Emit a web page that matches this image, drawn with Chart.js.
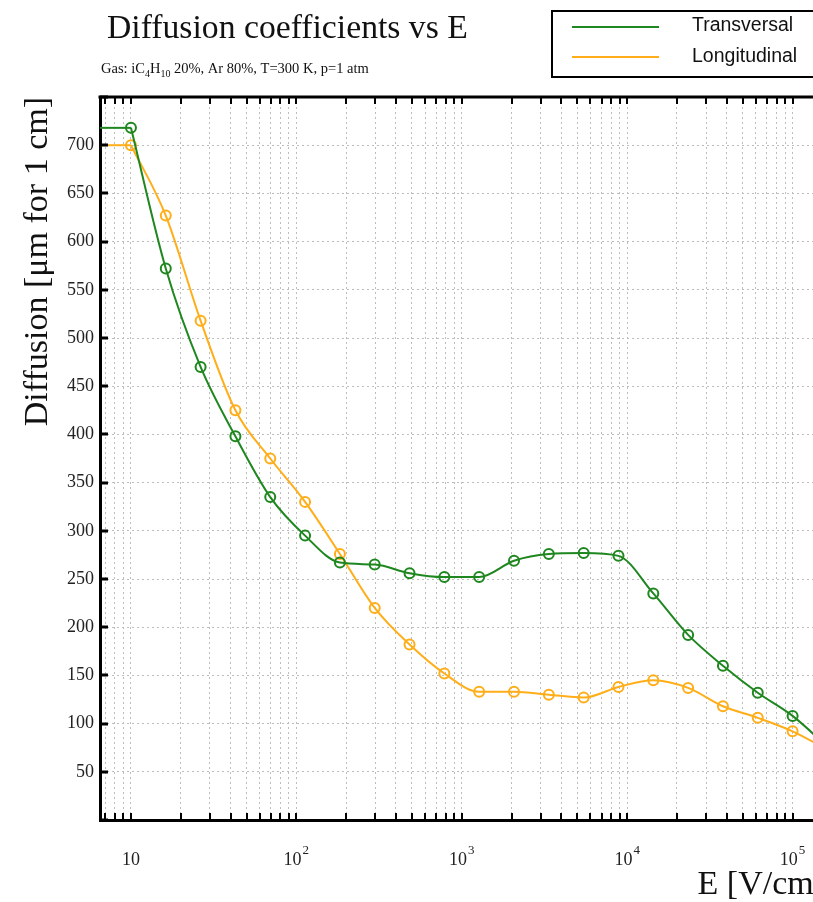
<!DOCTYPE html>
<html>
<head>
<meta charset="utf-8">
<script src="https://cdn.jsdelivr.net/npm/chart.js@4"></script>
<style>
html, body { margin: 0; padding: 0; overflow: hidden; background: #fff; }
canvas { display: block; }
</style>
</head>
<body>
<canvas id="mycanvas" width="832" height="902"></canvas>
<script>
// electric field E [V/cm], log spaced sample points (last one lies past the visible edge)
var fieldE = [10, 16.24, 26.37, 42.81, 69.52, 112.9, 183.3, 297.6, 483.3, 784.8, 1274, 2069, 3360, 5456, 8859, 14384, 23357, 37927, 61585, 100000, 162378];
var transversal = [718, 572, 470, 398, 335, 295, 267, 265, 256, 252, 252, 269, 276, 277, 274, 235, 192, 160, 132, 108, 76];
var longitudinal = [700, 627, 518, 425, 375, 330, 276, 220, 182, 152, 133, 133, 130, 127, 138, 145, 137, 118, 106, 92, 73];

var decadeTicks = [10, 100, 1000, 10000, 100000];
var decadeExps = ['', '2', '3', '4', '5'];
var minorSteps = [1, 2, 3, 4, 5, 6, 7, 8, 9];
var xMin = 6.5, xMax = 157000;
var yMin = 0, yMax = 750, yStep = 50;

var green = '#1f871f';
var orange = '#ffae19';

var xTickValues = [7, 8, 9];
decadeTicks.forEach(function (d) {
  minorSteps.forEach(function (m) {
    if (d * m <= xMax) xTickValues.push(d * m);
  });
});

function points(vals) {
  return fieldE.map(function (e, i) { return { x: e, y: vals[i] }; });
}

var decor = {
  id: 'decor',
  afterDraw: function (chart) {
    var ctx = chart.ctx, a = chart.chartArea;
    var xs = chart.scales.x, ys = chart.scales.y;
    ctx.save();

    // frame top
    ctx.strokeStyle = '#000';
    ctx.lineWidth = 3;
    ctx.beginPath();
    ctx.moveTo(a.left - 1.5, a.top);
    ctx.lineTo(a.right, a.top);
    ctx.stroke();

    // inward ticks
    ctx.lineWidth = 2;
    ctx.beginPath();
    xs.ticks.forEach(function (t) {
      var px = Math.round(xs.getPixelForValue(t.value));
      ctx.moveTo(px, a.bottom);
      ctx.lineTo(px, a.bottom - 7);
      ctx.moveTo(px, a.top);
      ctx.lineTo(px, a.top + 7);
    });
    ctx.stroke();
    ctx.lineWidth = 3;
    ctx.beginPath();
    ys.ticks.forEach(function (t) {
      var py = Math.round(ys.getPixelForValue(t.value));
      ctx.moveTo(a.left, py);
      ctx.lineTo(a.left + 8, py);
    });
    ctx.stroke();

    // x tick labels 10, 10^2 ...
    ctx.fillStyle = '#222';
    ctx.textBaseline = 'alphabetic';
    ctx.textAlign = 'left';
    decadeTicks.forEach(function (v, i) {
      var px = xs.getPixelForValue(v);
      ctx.font = '18px "Liberation Serif"';
      var w1 = ctx.measureText('10').width;
      ctx.font = '13px "Liberation Serif"';
      var w2 = decadeExps[i] ? ctx.measureText(decadeExps[i]).width + 1 : 0;
      var x0 = px - (w1 + w2) / 2;
      ctx.font = '18px "Liberation Serif"';
      ctx.fillText('10', x0, 865);
      if (decadeExps[i]) {
        ctx.font = '13px "Liberation Serif"';
        ctx.fillText(decadeExps[i], x0 + w1 + 1, 854);
      }
    });

    // title
    ctx.fillStyle = '#111';
    ctx.font = '33.7px "Liberation Serif"';
    ctx.fillText('Diffusion coefficients vs E', 107, 38);

    // subtitle with subscripts
    var parts = [
      ['Gas: iC', 0], ['4', 1], ['H', 0], ['10', 1], [' 20%, Ar 80%, T=300 K, p=1 atm', 0]
    ];
    var sx = 101;
    parts.forEach(function (p) {
      ctx.font = p[1] ? '10px "Liberation Serif"' : '14.5px "Liberation Serif"';
      ctx.fillText(p[0], sx, p[1] ? 77 : 73);
      sx += ctx.measureText(p[0]).width;
    });

    // legend box
    ctx.strokeStyle = '#000';
    ctx.lineWidth = 2;
    ctx.strokeRect(552, 11, 290, 66);
    ctx.strokeStyle = green;
    ctx.beginPath(); ctx.moveTo(572, 27); ctx.lineTo(659, 27); ctx.stroke();
    ctx.strokeStyle = orange;
    ctx.beginPath(); ctx.moveTo(572, 57); ctx.lineTo(659, 57); ctx.stroke();
    ctx.fillStyle = '#111';
    ctx.font = '19.5px "Liberation Sans"';
    ctx.textBaseline = 'middle';
    ctx.fillText('Transversal', 692, 26);
    ctx.fillText('Longitudinal', 692, 57);

    ctx.restore();
  }
};

var ctx = document.getElementById('mycanvas').getContext('2d');
var myChart = new Chart(ctx, {
  type: 'line',
  data: {
    datasets: [
      {
        label: 'Transversal',
        data: points(transversal),
        borderColor: green,
        borderWidth: 2,
        pointRadius: 5,
        pointBorderWidth: 2,
        pointBorderColor: green,
        pointBackgroundColor: 'rgba(0,0,0,0)',
        cubicInterpolationMode: 'monotone'
      },
      {
        label: 'Longitudinal',
        data: points(longitudinal),
        borderColor: orange,
        borderWidth: 2,
        pointRadius: 5,
        pointBorderWidth: 2,
        pointBorderColor: orange,
        pointBackgroundColor: 'rgba(0,0,0,0)',
        cubicInterpolationMode: 'monotone'
      },
      // flat start from the left edge to the first sample
      {
        label: 'T start',
        data: [{ x: xMin, y: transversal[0] }, { x: fieldE[0], y: transversal[0] }],
        borderColor: green,
        borderWidth: 2,
        pointRadius: 0
      },
      {
        label: 'L start',
        data: [{ x: xMin, y: longitudinal[0] }, { x: fieldE[0], y: longitudinal[0] }],
        borderColor: orange,
        borderWidth: 2,
        pointRadius: 0
      }
    ]
  },
  options: {
    responsive: false,
    animation: false,
    parsing: false,
    layout: { padding: { top: 97, left: 0, right: 0, bottom: 0 } },
    plugins: { legend: { display: false }, tooltip: { enabled: false } },
    scales: {
      x: {
        type: 'logarithmic',
        min: xMin,
        max: xMax,
        afterBuildTicks: function (s) {
          s.ticks = xTickValues.map(function (v) { return { value: v }; });
        },
        afterFit: function (s) { s.height = 82; },
        ticks: { display: false },
        grid: { color: '#bdbdbd', lineWidth: 1, drawTicks: false },
        border: { display: true, color: '#000', width: 3, dash: [2, 3] },
        title: {
          display: true,
          text: 'E [V/cm]',
          align: 'end',
          color: '#111',
          font: { family: 'Liberation Serif', size: 34, lineHeight: 1 },
          padding: 0
        }
      },
      y: {
        min: yMin,
        max: yMax,
        afterFit: function (s) { s.width = 100; },
        ticks: {
          stepSize: yStep,
          padding: 6,
          color: '#222',
          font: { family: 'Liberation Serif', size: 18 },
          callback: function (v) { return (v === yMin || v === yMax) ? '' : v; }
        },
        grid: { color: '#bdbdbd', lineWidth: 1, drawTicks: false },
        border: { display: true, color: '#000', width: 3, dash: [2, 3] },
        title: {
          display: true,
          text: 'Diffusion [\u03bcm for 1 cm]',
          align: 'end',
          color: '#111',
          font: { family: 'Liberation Serif', size: 34, lineHeight: 1.2 },
          padding: { top: 18, bottom: 0 }
        }
      }
    }
  },
  plugins: [decor]
});
</script>
</body>
</html>
